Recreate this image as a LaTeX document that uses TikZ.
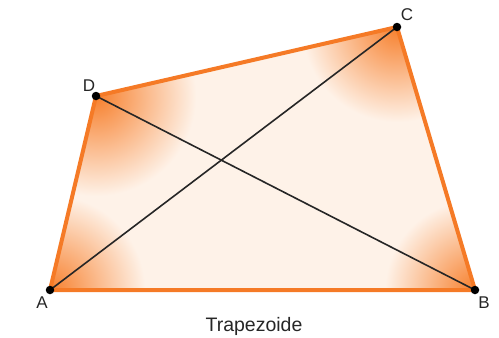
\documentclass[tikz,border=0pt]{standalone}
\usepackage{fontspec}
\setmainfont{Liberation Sans}
\definecolor{edgeorange}{RGB}{245,122,38}
\definecolor{fillcream}{RGB}{254,242,232}
\definecolor{cornerorange}{RGB}{247,128,45}
\tikzset{
  edge/.style={draw=edgeorange, line width=4pt, line join=round},
  diag/.style={draw=black!85, line width=1.6pt},
  vdot/.style={circle, fill=black, inner sep=0pt, minimum size=8.5pt},
  vlabel/.style={font=\fontsize{17}{17}\selectfont, text=black!85, inner sep=0pt},
  caption/.style={font=\fontsize{19.5}{20}\selectfont, text=black!85, inner sep=0pt}
}
\begin{document}
\begin{tikzpicture}[x=1pt,y=-1pt]
\useasboundingbox (0,0) rectangle (499,338);
\coordinate (A) at (50,290);
\coordinate (B) at (475,290);
\coordinate (C) at (397,27);
\coordinate (D) at (96,96);
\fill[fillcream] (A) -- (B) -- (C) -- (D) -- cycle;
\begin{scope}
  \clip (A) -- (B) -- (C) -- (D) -- cycle;
  \shade[inner color=cornerorange, outer color=fillcream] (A) circle (95);
  \shade[inner color=cornerorange, outer color=fillcream] (B) circle (90);
  \shade[inner color=cornerorange, outer color=fillcream] (C) circle (95);
  \shade[inner color=cornerorange, outer color=fillcream] (D) circle (100);
\end{scope}
\path[edge] (A) -- (B) -- (C) -- (D) -- cycle;
\path[diag] (A) -- (C);
\path[diag] (D) -- (B);
\node[vdot] (a) at (A) {};
\node[vdot] (b) at (B) {};
\node[vdot] (c) at (C) {};
\node[vdot] (d) at (D) {};
\node[vlabel] (la) at (42,303) {A};
\node[vlabel] (lb) at (484,303) {B};
\node[vlabel] (lc) at (407,15) {C};
\node[vlabel] (ld) at (89,86) {D};
\node[caption] (cap) at (254,326) {Trapezoide};
\end{tikzpicture}
\end{document}
